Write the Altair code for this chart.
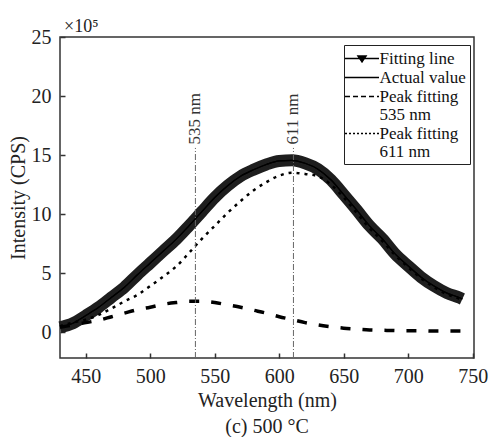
import altair as alt
import pandas as pd

# ---- data (intensity in units of 1e5 CPS) ----
wavelength = [430, 440, 450, 460, 470, 480, 490, 500, 510, 520, 530, 540, 550, 560, 570, 580,
              590, 600, 610, 620, 630, 640, 650, 660, 670, 680, 690, 700, 710, 720, 730, 740, 742]
fitting_line = [0.4, 0.75, 1.4, 2.1, 2.95, 3.8, 4.85, 5.85, 6.85, 7.85, 9.0, 10.2, 11.4, 12.4, 13.2, 13.75,
                14.2, 14.5, 14.55, 14.3, 13.8, 12.9, 11.65, 10.35, 9.0, 7.9, 6.6, 5.6, 4.65, 3.9, 3.3, 2.9, 2.8]
actual_value = [0.4, 0.75, 1.4, 2.1, 2.95, 3.8, 4.85, 5.85, 6.85, 7.85, 9.0, 10.2, 11.4, 12.4, 13.2, 13.75,
                14.2, 14.5, 14.55, 14.3, 13.8, 12.9, 11.65, 10.35, 9.0, 7.9, 6.6, 5.6, 4.65, 3.9, 3.3, 2.9, 2.8]
peak_535 = [0.4, 0.6, 0.8, 1.0, 1.3, 1.6, 1.9, 2.1, 2.35, 2.5, 2.6, 2.6, 2.5, 2.3, 2.1, 1.85,
            1.6, 1.3, 1.05, 0.8, 0.6, 0.45, 0.33, 0.25, 0.18, 0.15, 0.12, 0.1, 0.1, 0.08, 0.08, 0.08, 0.08]
peak_611 = [0.5, 0.8, 1.05, 1.45, 2.0, 2.6, 3.15, 3.9, 4.7, 5.55, 6.7, 7.9, 9.0, 10.1, 11.1, 12.0,
            12.7, 13.25, 13.5, 13.4, 13.2, 12.5, 11.4, 10.1, 8.8, 7.7, 6.5, 5.5, 4.55, 3.8, 3.2, 2.8, 2.7]

series_names = ["Fitting line", "Actual value", "Peak fitting 535 nm", "Peak fitting 611 nm"]
peak_positions = [535, 611]
peak_labels = ["535 nm", "611 nm"]
x_ticks = [450, 500, 550, 600, 650, 700, 750]
y_ticks = [0, 5, 10, 15, 20, 25]

FONT = "Liberation Serif"

rows = []
for name, vals in zip(series_names, [fitting_line, actual_value, peak_535, peak_611]):
    for w, v in zip(wavelength, vals):
        rows.append({"wavelength": w, "value": v, "series": name})
df = pd.DataFrame(rows)
df_fit = df[df.series == "Fitting line"]
df_solid = df[df.series.isin(["Fitting line", "Actual value"])]
df_535 = df[df.series == "Peak fitting 535 nm"]
df_611 = df[df.series == "Peak fitting 611 nm"]
df_peaks = pd.DataFrame({"wavelength": peak_positions, "label": peak_labels})

xscale = alt.Scale(domain=[430, 751], nice=False, zero=False)
yscale = alt.Scale(domain=[-2.2, 25], nice=False, zero=False)

x_axis = alt.Axis(values=x_ticks, title="Wavelength (nm)", offset=-5, domain=False,
                  tickSize=5, tickWidth=1.5, tickColor="#333", grid=False,
                  labelFont=FONT, labelFontSize=20, labelColor="#222", labelPadding=8,
                  titleFont=FONT, titleFontSize=20, titleFontWeight="normal", titleColor="#222",
                  titlePadding=4)
y_axis = alt.Axis(values=y_ticks, title="Intensity (CPS)", offset=-5, domain=False,
                  tickSize=5, tickWidth=1.5, tickColor="#333", grid=False,
                  labelFont=FONT, labelFontSize=20, labelColor="#222", labelPadding=9,
                  titleFont=FONT, titleFontSize=20, titleFontWeight="normal", titleColor="#222",
                  titlePadding=3)

X = alt.X("wavelength:Q", scale=xscale, axis=x_axis)
Y = alt.Y("value:Q", scale=yscale, axis=y_axis)

is_fit = "datum.value === 'Fitting line'"
legend = alt.Legend(
    title=None, orient="none", legendX=284, legendY=8,
    strokeColor="#222", padding=4, fillColor="white",
    labelFont=FONT, labelFontSize=17, labelColor="#111", labelOffset=8, labelLimit=300,
    symbolSize=289, symbolStrokeWidth=1.5, symbolOffset=4.5, symbolStrokeColor="black",
    symbolType={"expr": is_fit + " ? 'M-2,0H2M-0.47,-0.3H0.47L0,0.4Z' : 'M-2,0H2'"},
    symbolFillColor={"expr": is_fit + " ? 'black' : 'transparent'"},
    symbolDash={"expr": "datum.value === 'Peak fitting 535 nm' ? [5, 3] : "
                        "datum.value === 'Peak fitting 611 nm' ? [2, 2] : [1, 0]"},
    rowPadding=1,
    labelExpr=("datum.value === 'Peak fitting 535 nm' ? ['Peak fitting', '\u00a0535 nm'] : "
               "datum.value === 'Peak fitting 611 nm' ? ['Peak fitting', '\u00a0611 nm'] : datum.label"),
)

band = alt.Chart(df_fit).mark_line(strokeWidth=12, color="#1e1e1e", strokeCap="butt",
                                   interpolate="monotone").encode(x=X, y=Y)

solid = alt.Chart(df_solid).mark_line(interpolate="monotone", strokeWidth=1.2).encode(
    x=X, y=Y,
    color=alt.Color("series:N", scale=alt.Scale(domain=series_names, range=["black"] * 4), legend=legend),
)

dashed = alt.Chart(df_535).mark_line(interpolate="monotone", color="black", strokeWidth=3.5,
                                     strokeDash=[10, 12]).encode(x=X, y=Y)
dotted = alt.Chart(df_611).mark_line(interpolate="monotone", color="black", strokeWidth=2.5,
                                     strokeDash=[3, 5]).encode(x=X, y=Y)

rules = alt.Chart(df_peaks).mark_rule(color="#666", strokeDash=[6, 2, 1, 2], strokeWidth=1).encode(
    x=X, y=alt.datum(-2.2), y2=alt.datum(15.6)
)

peak_text = alt.Chart(df_peaks).mark_text(angle=270, align="left", baseline="middle",
                                          font=FONT, fontSize=17, color="#333").encode(
    x=X, y=alt.datum(15.9), text="label:N"
)

exponent = alt.Chart(df_peaks).transform_filter("datum.wavelength === 535").mark_text(
    align="left", baseline="middle", font=FONT, fontSize=18, color="#222"
).encode(x=alt.value(4), y=alt.value(-10), text=alt.value("×10⁵"))

chart = alt.layer(band, solid, dashed, dotted, rules, peak_text, exponent).properties(
    width=414, height=321,
    padding={"left": 60, "top": 37, "right": 20, "bottom": 79},
    autosize=alt.AutoSizeParams(type="none"),
    title=alt.TitleParams("(c) 500 °C", orient="bottom", anchor="middle", font=FONT,
                          fontSize=20, fontWeight="normal", color="#222", offset=7),
    background="white",
).configure(
    view=alt.ViewConfig(stroke="#333", strokeWidth=1.5),
    style={"guide-label": {"lineHeight": 18}},
)

chart.save("out.html", embed_options={"renderer": "svg", "actions": False})
